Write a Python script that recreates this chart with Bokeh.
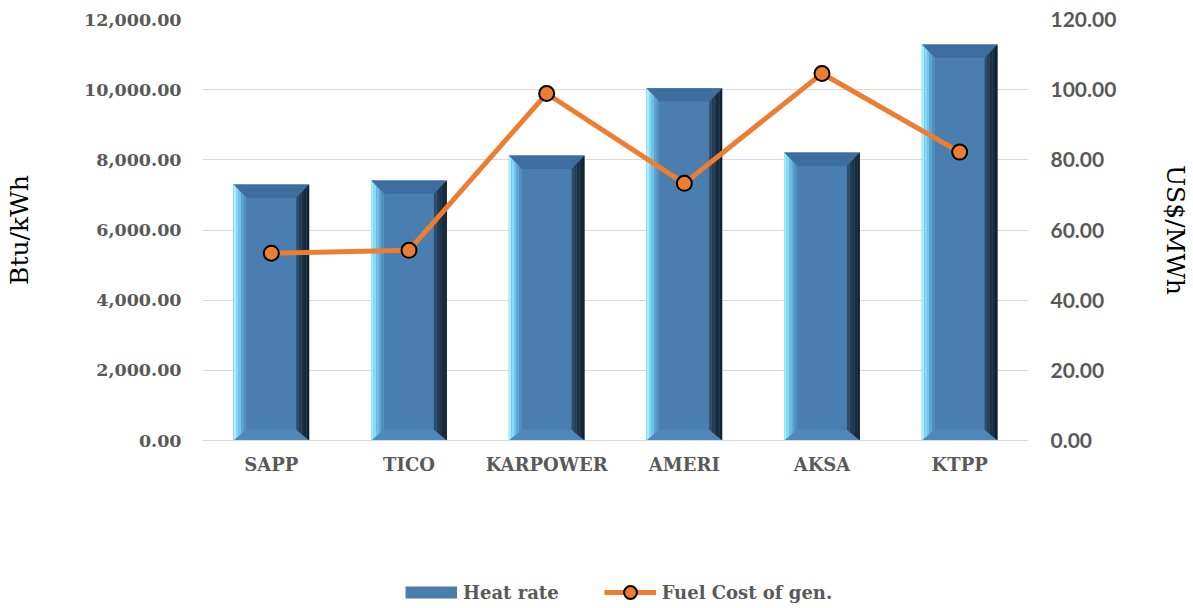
from bokeh.plotting import figure
from bokeh.layouts import column
from bokeh.models import (LinearAxis, Range1d, FixedTicker, NumeralTickFormatter,
                          Legend, LegendItem)
from bokeh.embed import file_html
from bokeh.resources import INLINE

# ---- data ----
categories = ["SAPP", "TICO", "KARPOWER", "AMERI", "AKSA", "KTPP"]
heat_rate = [7300, 7410, 8120, 10040, 8210, 11290]          # Btu/kWh (left axis)
fuel_cost = [53.4, 54.2, 98.9, 73.3, 104.6, 82.2]           # US$/MWh (right axis)
left_ticks = [0, 2000, 4000, 6000, 8000, 10000, 12000]
right_ticks = [0, 20, 40, 60, 80, 100, 120]
legend_labels = ["Heat rate", "Fuel Cost of gen."]

# ---- styling constants ----
BAR_W = 0.55
BEV_X = 0.094
BEV_Y = 380
GRAY = "#595959"
GRID = "#d9d9d9"
SERIF = "DejaVu Serif"
BAR_COLOR = "#4a7eb0"
LINE_COLOR = "#ED7D31"

xpos = [i + 0.5 for i in range(len(categories))]

p = figure(width=1193, height=562, x_range=Range1d(0, 6), y_range=Range1d(0, 12000),
           output_backend="svg", toolbar_location=None,
           min_border_left=202, min_border_right=163, min_border_top=19, min_border_bottom=122)
p.outline_line_color = None
p.background_fill_color = "white"

p.extra_y_ranges = {"cost": Range1d(0, 120)}

# body of bars
body = p.vbar(x=xpos, top=heat_rate, width=BAR_W, bottom=0,
              fill_color=BAR_COLOR, line_color=None)

# bevel pieces computed from data
top_xs, top_ys, bot_xs, bot_ys = [], [], [], []
left_cols = ["#a0f2ff", "#88dcfa", "#72c2ea", "#5ea6d6", "#5290c2"]
right_cols = ["#2e4c68", "#243c54", "#1d3144", "#182a3a", "#142230"]
left_pieces = {c: ([], []) for c in left_cols}
right_pieces = {c: ([], []) for c in right_cols}
for x, h in zip(xpos, heat_rate):
    L, R = x - BAR_W / 2, x + BAR_W / 2
    top_xs.append([L, R, R - BEV_X, L + BEV_X])
    top_ys.append([h, h, h - BEV_Y, h - BEV_Y])
    bot_xs.append([L, R, R - BEV_X, L + BEV_X])
    bot_ys.append([0, 0, BEV_Y * 0.8, BEV_Y * 0.8])
    n = len(left_cols)
    for i, c in enumerate(left_cols):
        a, b = i / n, (i + 1) / n
        left_pieces[c][0].append([L + a * BEV_X, L + b * BEV_X, L + b * BEV_X, L + a * BEV_X])
        left_pieces[c][1].append([a * BEV_Y * 0.8, b * BEV_Y * 0.8, h - b * BEV_Y, h - a * BEV_Y])
    n = len(right_cols)
    for i, c in enumerate(right_cols):
        a, b = 1 - i / n, 1 - (i + 1) / n
        lx = R - a * BEV_X
        rx = R - b * BEV_X
        right_pieces[c][0].append([lx, rx, rx, lx])
        right_pieces[c][1].append([a * BEV_Y * 0.8, b * BEV_Y * 0.8, h - b * BEV_Y, h - a * BEV_Y])

p.patches(xs=top_xs, ys=top_ys, fill_color="#3e6e9f", line_color=None)
p.patches(xs=bot_xs, ys=bot_ys, fill_color="#5188bc", line_color=None)
for c, (xs, ys) in left_pieces.items():
    p.patches(xs=xs, ys=ys, fill_color=c, line_color=None)
for c, (xs, ys) in right_pieces.items():
    p.patches(xs=xs, ys=ys, fill_color=c, line_color=None)

# line series
line_r = p.line(x=xpos, y=fuel_cost, y_range_name="cost", line_color=LINE_COLOR, line_width=5)
mark_r = p.scatter(x=xpos, y=fuel_cost, y_range_name="cost", size=15, marker="circle",
                   fill_color=LINE_COLOR, line_color="black", line_width=2)

# x axis
xa = p.xaxis[0]
xa.ticker = FixedTicker(ticks=xpos)
xa.major_label_overrides = {x: c for x, c in zip(xpos, categories)}
xa.axis_line_color = GRID
xa.major_tick_line_color = None
xa.minor_tick_line_color = None
xa.major_tick_out = 0
xa.major_tick_in = 0
xa.major_label_standoff = 13
xa.major_label_text_font = SERIF
xa.major_label_text_font_style = "bold"
xa.major_label_text_font_size = "18px"
xa.major_label_text_color = GRAY
p.xgrid.visible = False

# left axis
ya = p.yaxis[0]
ya.ticker = FixedTicker(ticks=left_ticks)
ya.formatter = NumeralTickFormatter(format="0,0.00")
ya.axis_line_color = None
ya.major_tick_line_color = None
ya.minor_tick_line_color = None
ya.major_tick_out = 0
ya.major_tick_in = 0
ya.minor_tick_out = 0
ya.major_label_standoff = 21
ya.major_label_text_font = SERIF
ya.major_label_text_font_style = "bold"
ya.major_label_text_font_size = "17.5px"
ya.major_label_text_color = GRAY
ya.axis_label = "Btu/kWh"
ya.axis_label_text_font = SERIF
ya.axis_label_text_font_style = "normal"
ya.axis_label_text_font_size = "25px"
ya.axis_label_text_color = "black"
ya.axis_label_standoff = 47
p.ygrid.ticker = FixedTicker(ticks=left_ticks)
p.ygrid.grid_line_color = GRID
p.ygrid.grid_line_width = 1

# right axis
ra = LinearAxis(y_range_name="cost", ticker=FixedTicker(ticks=right_ticks),
                formatter=NumeralTickFormatter(format="0.00"))
ra.axis_line_color = None
ra.major_tick_line_color = None
ra.minor_tick_line_color = None
ra.major_tick_out = 0
ra.major_tick_in = 0
ra.minor_tick_out = 0
ra.major_label_standoff = 22
ra.major_label_text_font = "Lato"
ra.major_label_text_font_style = "bold"
ra.major_label_text_font_size = "21px"
ra.major_label_text_color = GRAY
ra.axis_label = "US$/MWh"
ra.axis_label_text_font = SERIF
ra.axis_label_text_font_style = "normal"
ra.axis_label_text_font_size = "25px"
ra.axis_label_text_color = "black"
ra.axis_label_standoff = 42
p.add_layout(ra, "right")

# ---- legend strip (separate small figure below the chart; its frame aligns with the chart's) ----
leg = figure(width=1193, height=46, x_range=Range1d(0, 1), y_range=Range1d(0, 1),
             output_backend="svg", toolbar_location=None,
             x_axis_type=None, y_axis_type=None, min_border=0)
leg.outline_line_color = None
lb = leg.line(x=[5, 6], y=[5, 5], line_color=BAR_COLOR, line_width=12)
ll = leg.line(x=[5, 6], y=[5, 5], line_color=LINE_COLOR, line_width=5)
lm = leg.scatter(x=[5], y=[5], size=13, marker="circle", fill_color=LINE_COLOR,
                 line_color="black", line_width=2)
legend = Legend(items=[LegendItem(label=legend_labels[0], renderers=[lb]),
                       LegendItem(label=legend_labels[1], renderers=[ll, lm])],
                orientation="horizontal", location=(203, 0),
                label_text_font=SERIF, label_text_font_style="bold",
                label_text_font_size="18px", label_text_color=GRAY,
                glyph_width=52, glyph_height=32, spacing=45, label_standoff=6,
                padding=0, margin=0, border_line_alpha=0, background_fill_alpha=0)
leg.add_layout(legend)

layout = column(p, leg, spacing=0)
open("out.html", "w").write(file_html(layout, INLINE))
